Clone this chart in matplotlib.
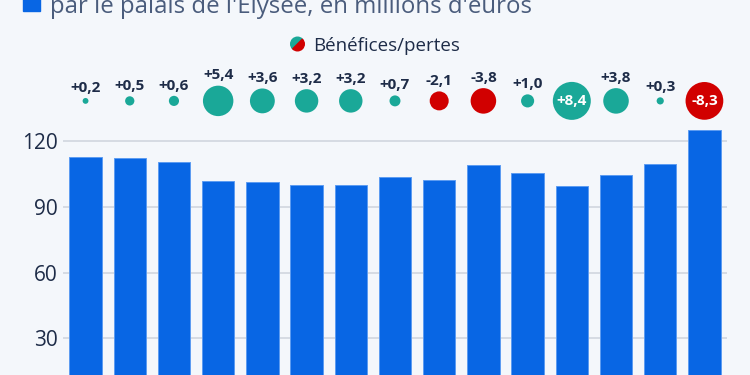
import matplotlib
matplotlib.use('Agg')
import matplotlib.pyplot as plt
from matplotlib.patches import Wedge, Rectangle
import numpy as np

# dotation (bars) et resultat annuel (bulles), en millions d'euros
budget = [112.6, 112.1, 110.6, 101.7, 101.4, 100.0, 100.0, 103.5, 102.1, 109.0, 105.3, 99.5, 104.5, 109.8, 125.3]
resultat = [0.2, 0.5, 0.6, 5.4, 3.6, 3.2, 3.2, 0.7, -2.1, -3.8, 1.0, 8.4, 3.8, 0.3, -8.3]
yticks = [30, 60, 90, 120]

bg = '#f4f7fb'
blue = '#0866e4'
teal = '#1aa898'
red = '#d10000'
navy = '#1e2c48'

plt.rcParams['font.family'] = ['Open Sans', 'DejaVu Sans']

fig = plt.figure(figsize=(7.5, 3.75), dpi=100, facecolor=bg)
ax = fig.add_axes([0.084, -0.0773, 0.8853, 0.7592], facecolor=bg)

x = np.arange(len(budget))
ax.bar(x, budget, 0.73, color=blue, edgecolor='#5d9cf2', linewidth=0.7, zorder=3)
ax.set_xlim(-0.51, 14.51)
ax.set_ylim(0, 130)
ax.set_yticks(yticks)
ax.set_yticklabels([str(t) for t in yticks], fontsize=15, color=navy)
ax.tick_params(axis='y', length=0, pad=4)
ax.tick_params(axis='x', length=0, labelbottom=False)
ax.grid(axis='y', color='#cdd3dc', linewidth=1.1, zorder=0)
for s in ax.spines.values():
    s.set_visible(False)

# bulles des benefices / pertes
ybub = 138.4
sizes = [89 * abs(v) for v in resultat]
cols = [teal if v >= 0 else red for v in resultat]
ax.scatter(x, [ybub] * len(x), s=sizes, c=cols, clip_on=False, zorder=4, linewidths=0)
for xi, v, sz in zip(x, resultat, sizes):
    lab = ('%+.1f' % v).replace('.', ',')
    if abs(v) >= 8:
        ax.text(xi, ybub, lab, ha='center', va='center', fontsize=11,
                fontweight='bold', color='white', zorder=5, clip_on=False)
    else:
        r = np.sqrt(sz) / 2
        ax.annotate(lab, (xi, ybub), xytext=(0, r + 4.5), textcoords='offset points',
                    ha='center', va='baseline', fontsize=11, fontweight='bold',
                    color=navy, annotation_clip=False)

# titre (coupe en haut) et legende
tr = fig.dpi_scale_trans
fig.patches.append(Rectangle((0.23, 3.64), 0.17, 0.17, transform=tr, color=blue, figure=fig))
fig.text(50 / 750, (375 - 13) / 375, "par le palais de l'Elysée, en millions d'euros",
         fontsize=17.3, color='#4a5c7c', ha='left', va='baseline')

cx, cy, rr = 2.975, 3.31, 0.068
fig.patches.append(Wedge((cx, cy), rr, 45, 225, transform=tr, color=teal, figure=fig))
fig.patches.append(Wedge((cx, cy), rr, 225, 405, transform=tr, color=red, figure=fig))
fig.text(3.13, 3.243, 'Bénéfices/pertes', transform=tr, fontsize=13.5, color=navy,
         ha='left', va='baseline')

fig.savefig('out.png', dpi=100, facecolor=bg)
